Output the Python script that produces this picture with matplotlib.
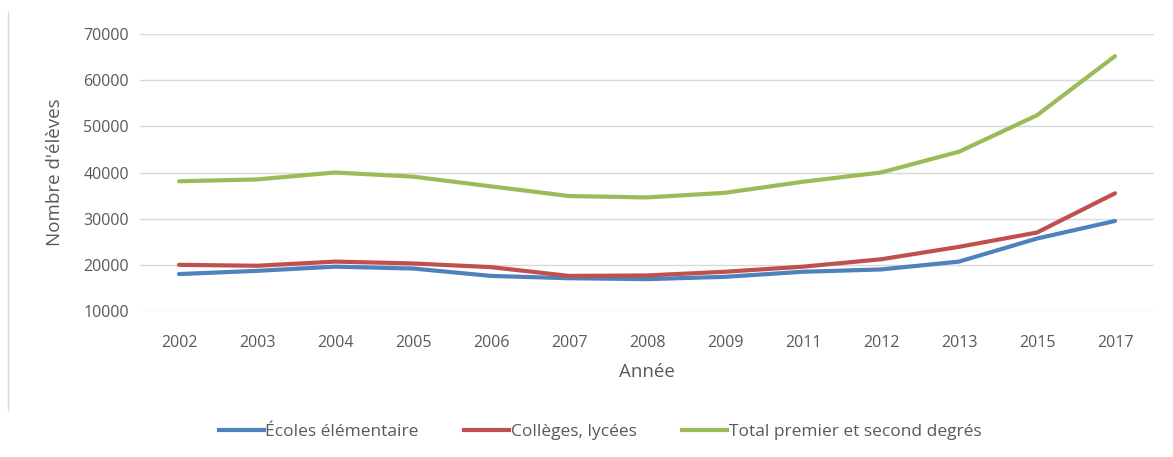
import matplotlib
matplotlib.use('Agg')
from matplotlib import pyplot as plt
from matplotlib.lines import Line2D

# Data
annees = ['2002', '2003', '2004', '2005', '2006', '2007', '2008',
          '2009', '2011', '2012', '2013', '2015', '2017']
ecoles = [18000, 18700, 19600, 19200, 17600, 17100, 16900,
          17400, 18500, 19000, 20700, 25700, 29500]
colleges = [20000, 19800, 20700, 20300, 19500, 17600, 17700,
            18500, 19600, 21200, 23900, 27000, 35500]
total = [38100, 38500, 40000, 39100, 37000, 34900, 34600,
         35600, 38000, 40000, 44500, 52400, 65200]
y_ticks = [10000, 20000, 30000, 40000, 50000, 60000, 70000]

plt.rcParams['font.family'] = ['Open Sans', 'DejaVu Sans']
text_color = '#595959'

fig = plt.figure(figsize=(11.73, 4.57), dpi=100)
ax = fig.add_axes([140 / 1173, 1 - 311 / 457, 1014 / 1173, 277 / 457])

x = range(len(annees))
ax.plot(x, ecoles, color='#4F81BD', lw=3, label='Écoles élémentaire', solid_capstyle='round')
ax.plot(x, colleges, color='#C0504D', lw=3, label='Collèges, lycées', solid_capstyle='round')
ax.plot(x, total, color='#9BBB59', lw=3, label='Total premier et second degrés', solid_capstyle='round')

ax.set_xlim(-0.5, len(annees) - 0.5)
ax.set_ylim(10000, 70000)
ax.set_yticks(y_ticks)
ax.set_xticks(list(x))
ax.set_xticklabels(annees)
ax.grid(axis='y', color='#D9D9D9', lw=1)
ax.set_axisbelow(True)
for s in ax.spines.values():
    s.set_visible(False)
ax.tick_params(length=0, labelsize=11.5, labelcolor=text_color)
ax.tick_params(axis='x', pad=17)
ax.tick_params(axis='y', pad=8)

ax.set_xlabel('Année', fontsize=13.5, color=text_color, labelpad=9)
ax.set_ylabel("Nombre d'élèves", fontsize=13.5, color=text_color, labelpad=14)

handles = [Line2D([], [], color=c, lw=3) for c in ['#4F81BD', '#C0504D', '#9BBB59']]
labels = ['Écoles élémentaire', 'Collèges, lycées', 'Total premier et second degrés']
fig.legend(handles, labels, loc='center', bbox_to_anchor=(600 / 1173, 1 - 432 / 457),
           ncol=3, frameon=False, fontsize=12.5, labelcolor=text_color,
           handlelength=2.6, handletextpad=0.1, columnspacing=2.6)

# thin frame line on the left edge of the chart area
fig.add_artist(Line2D([8 / 1173, 8 / 1173], [1 - 410 / 457, 1 - 12 / 457],
                      color='#D9D9D9', lw=1))

fig.savefig('out.png', dpi=100)
